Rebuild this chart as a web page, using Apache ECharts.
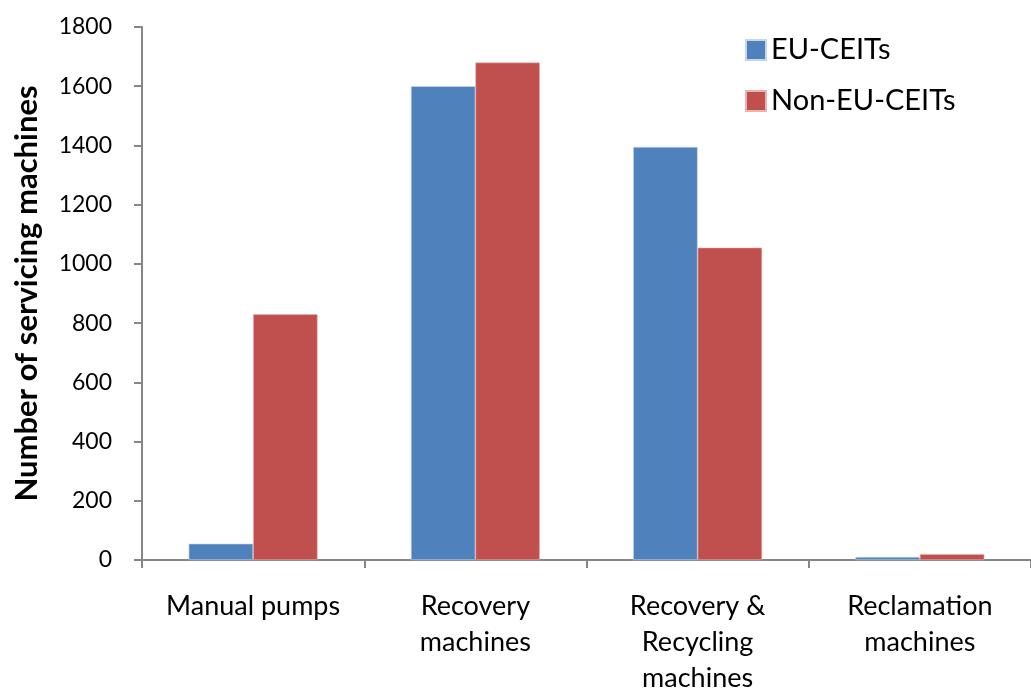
<!DOCTYPE html>
<html>
<head>
<meta charset="utf-8">
<script src="https://cdn.jsdelivr.net/npm/echarts@6/dist/echarts.min.js"></script>
<style>
  html, body { margin: 0; padding: 0; background: #ffffff; overflow: hidden; }
  #chart { width: 1031px; height: 696px; }
</style>
</head>
<body>
<div id="chart"></div>
<script>
// Servicing machines by type, EU vs non-EU CEITs
const categories = ['Manual pumps', 'Recovery\nmachines', 'Recovery &\nRecycling\nmachines', 'Reclamation\nmachines'];
const euValues = [55, 1600, 1395, 10];
const nonEuValues = [830, 1680, 1055, 20];
const seriesNames = ['EU-CEITs', 'Non-EU-CEITs'];
const yTicks = { min: 0, max: 1800, interval: 200 };

const font = 'Lato, "Open Sans", sans-serif';
const axisGrey = '#868686';

const chart = echarts.init(document.getElementById('chart'), null, { renderer: 'canvas' });
chart.setOption({
  animation: false,
  backgroundColor: '#ffffff',
  grid: { left: 142, top: 27, bottom: 130, width: 903, containLabel: false },
  legend: {
    orient: 'vertical',
    left: 740,
    top: 30,
    itemWidth: 20,
    itemHeight: 20,
    itemGap: 21,
    icon: 'rect',
    textStyle: { fontFamily: font, fontSize: 29, lineHeight: 30, color: '#000000' },
    data: seriesNames
  },
  xAxis: {
    type: 'category',
    data: categories,
    axisLine: { lineStyle: { color: axisGrey, width: 2 } },
    axisTick: { show: true, alignWithLabel: false, length: 8, lineStyle: { color: axisGrey, width: 2 } },
    axisLabel: {
      interval: 0,
      margin: 28,
      fontFamily: font,
      fontSize: 27,
      lineHeight: 36,
      color: '#000000'
    }
  },
  yAxis: {
    type: 'value',
    min: yTicks.min,
    max: yTicks.max,
    interval: yTicks.interval,
    name: 'Number of servicing machines',
    nameLocation: 'middle',
    nameGap: 100,
    nameTextStyle: { fontFamily: font, fontSize: 31, fontWeight: 'bold', color: '#000000' },
    axisLine: { show: true, lineStyle: { color: axisGrey, width: 2 } },
    axisTick: { show: true, length: 8, lineStyle: { color: axisGrey, width: 2 } },
    splitLine: { show: false },
    axisLabel: { margin: 30, fontFamily: font, fontSize: 23, color: '#000000', formatter: v => String(v) }
  },
  series: [
    {
      name: seriesNames[0],
      type: 'bar',
      data: euValues,
      barGap: '0%',
      barCategoryGap: '42%',
      itemStyle: { color: '#4f81bd', borderColor: '#c6d5ea', borderWidth: 0.6 }
    },
    {
      name: seriesNames[1],
      type: 'bar',
      data: nonEuValues,
      barGap: '0%',
      barCategoryGap: '42%',
      itemStyle: { color: '#c0504d', borderColor: '#e8b4b2', borderWidth: 0.6 }
    }
  ]
});
</script>
</body>
</html>
